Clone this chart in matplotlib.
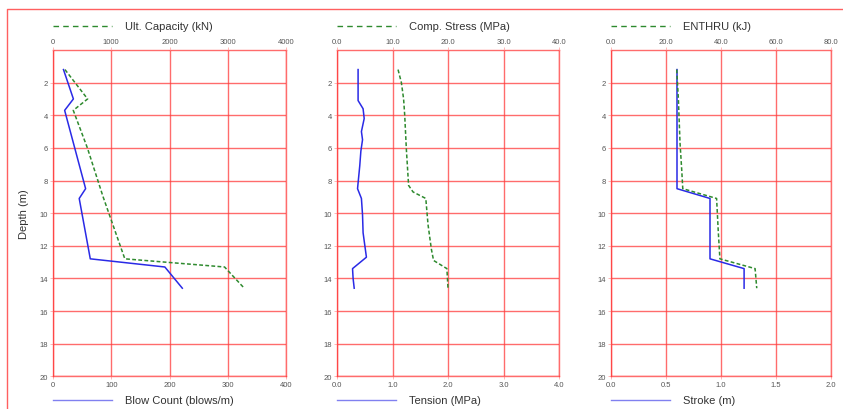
import numpy as np
import matplotlib
matplotlib.use('Agg')
import matplotlib.pyplot as plt
from matplotlib.lines import Line2D

plt.rcParams['font.family'] = ['Liberation Sans', 'DejaVu Sans']

# Panel 1: blow count (bottom axis) and ultimate capacity (top axis)
blow_depth = [1.2, 3.0, 3.7, 8.5, 9.1, 12.8, 13.3, 14.6]
blow_count = [18, 35, 20, 56, 45, 64, 192, 222]
cap_depth = [1.2, 3.0, 3.7, 6.0, 9.0, 12.8, 13.3, 14.55]
ult_capacity = [205, 594, 348, 590, 860, 1233, 2945, 3270]

# Panel 2: tension (bottom) and compression stress (top)
ten_depth = [1.2, 3.1, 3.6, 4.2, 5.0, 5.5, 6.2, 7.1, 8.5, 9.1, 10.1, 11.2, 12.7, 13.4, 14.0, 14.6]
tension = [0.38, 0.38, 0.47, 0.49, 0.44, 0.46, 0.43, 0.41, 0.37, 0.44, 0.46, 0.47, 0.53, 0.28, 0.29, 0.31]
comp_depth = [1.2, 2.0, 3.0, 4.0, 6.1, 8.3, 8.7, 9.1, 10.7, 12.2, 12.9, 13.4, 14.6]
comp_stress = [11.0, 11.6, 12.0, 12.2, 12.5, 12.9, 13.7, 16.0, 16.4, 17.0, 17.4, 19.8, 20.0]

# Panel 3: stroke (bottom) and transferred energy (top)
stroke_depth = [1.2, 8.5, 9.1, 12.8, 13.4, 14.6]
stroke = [0.6, 0.6, 0.9, 0.9, 1.21, 1.21]
enth_depth = [1.2, 3.0, 5.7, 7.3, 8.5, 9.1, 11.1, 12.8, 13.4, 14.6]
enthru = [23.9, 24.5, 25.1, 25.7, 26.1, 38.4, 39.0, 39.6, 52.4, 53.0]

panels = [
    dict(left=53, width=233,
         bot_y=blow_depth, bot_x=blow_count, bot_lim=400, bot_ticks=[0, 100, 200, 300, 400], bot_fmt='{:.0f}',
         bot_label='Blow Count (blows/m)',
         top_y=cap_depth, top_x=ult_capacity, top_lim=4000, top_ticks=[0, 1000, 2000, 3000, 4000], top_fmt='{:.0f}',
         top_label='Ult. Capacity (kN)'),
    dict(left=337, width=222,
         bot_y=ten_depth, bot_x=tension, bot_lim=4.0, bot_ticks=[0, 1, 2, 3, 4], bot_fmt='{:.1f}',
         bot_label='Tension (MPa)',
         top_y=comp_depth, top_x=comp_stress, top_lim=40.0, top_ticks=[0, 10, 20, 30, 40], top_fmt='{:.1f}',
         top_label='Comp. Stress (MPa)'),
    dict(left=611, width=220,
         bot_y=stroke_depth, bot_x=stroke, bot_lim=2.0, bot_ticks=[0, 0.5, 1.0, 1.5, 2.0], bot_fmt='{:.1f}',
         bot_label='Stroke (m)',
         top_y=enth_depth, top_x=enthru, top_lim=80.0, top_ticks=[0, 20, 40, 60, 80], top_fmt='{:.1f}',
         top_label='ENTHRU (kJ)'),
]

W, H = 843, 410
fig = plt.figure(figsize=(W / 100, H / 100), dpi=100)

red = '#ff3b3b'
blue = '#2a2ae6'
green = '#2e8a2e'
tick_col = '#555555'

for i, p in enumerate(panels):
    ax = fig.add_axes([p['left'] / W, 1 - 377.3 / H, p['width'] / W, (377.3 - 51) / H])
    ax.set_xlim(0, p['bot_lim'])
    ax.set_ylim(20, 0)
    ax.set_xticks(p['bot_ticks'])
    ax.set_xticklabels([p['bot_fmt'].format(t) for t in p['bot_ticks']])
    ax.set_yticks(np.arange(2, 21, 2))
    ax.grid(True, color=red, lw=1.0, alpha=0.75)
    for s in ax.spines.values():
        s.set_color(red)
        s.set_alpha(0.75)
        s.set_linewidth(1.0)
    ax.tick_params(axis='both', labelsize=5.5, colors='#ffaaaa', labelcolor=tick_col,
                   length=2, width=0.6, pad=1.5)
    ax.plot(p['bot_x'], p['bot_y'], color=blue, lw=1.1, zorder=4)

    ax2 = ax.twiny()
    ax2.set_xlim(0, p['top_lim'])
    ax2.set_xticks(p['top_ticks'])
    ax2.set_xticklabels([p['top_fmt'].format(t) for t in p['top_ticks']])
    ax2.tick_params(axis='x', labelsize=5.5, colors='#ffaaaa', labelcolor=tick_col,
                    length=2, width=0.6, pad=1.5)
    for s in ax2.spines.values():
        s.set_visible(False)
    ax2.plot(p['top_x'], p['top_y'], color=green, lw=1.1, ls=(0, (2.5, 1.5)), zorder=4)

    # legend entries drawn above and below each panel
    x0 = p['left'] / W
    fig.add_artist(Line2D([x0, x0 + 59 / W], [1 - 27.3 / H] * 2, color=green, lw=1.0,
                          ls=(0, (4, 3)), transform=fig.transFigure))
    fig.text(x0 + 72 / W, 1 - 27.3 / H, p['top_label'], fontsize=8, color='#333333', va='center')
    fig.add_artist(Line2D([x0, x0 + 59 / W], [1 - 401 / H] * 2, color='#8080f0', lw=1.0,
                          transform=fig.transFigure))
    fig.text(x0 + 72 / W, 1 - 401 / H, p['bot_label'], fontsize=8, color='#333333', va='center')

    if i == 0:
        ax.set_ylabel('Depth (m)', fontsize=8, color='#333333', labelpad=8)

# partial frame around the figure (top and left edges visible)
fig.add_artist(Line2D([7 / W, 7 / W, 1.0], [0.0, 1 - 10 / H, 1 - 10 / H],
                      color='#ff6060', lw=1.0, transform=fig.transFigure))

fig.savefig('out.png', dpi=100)
